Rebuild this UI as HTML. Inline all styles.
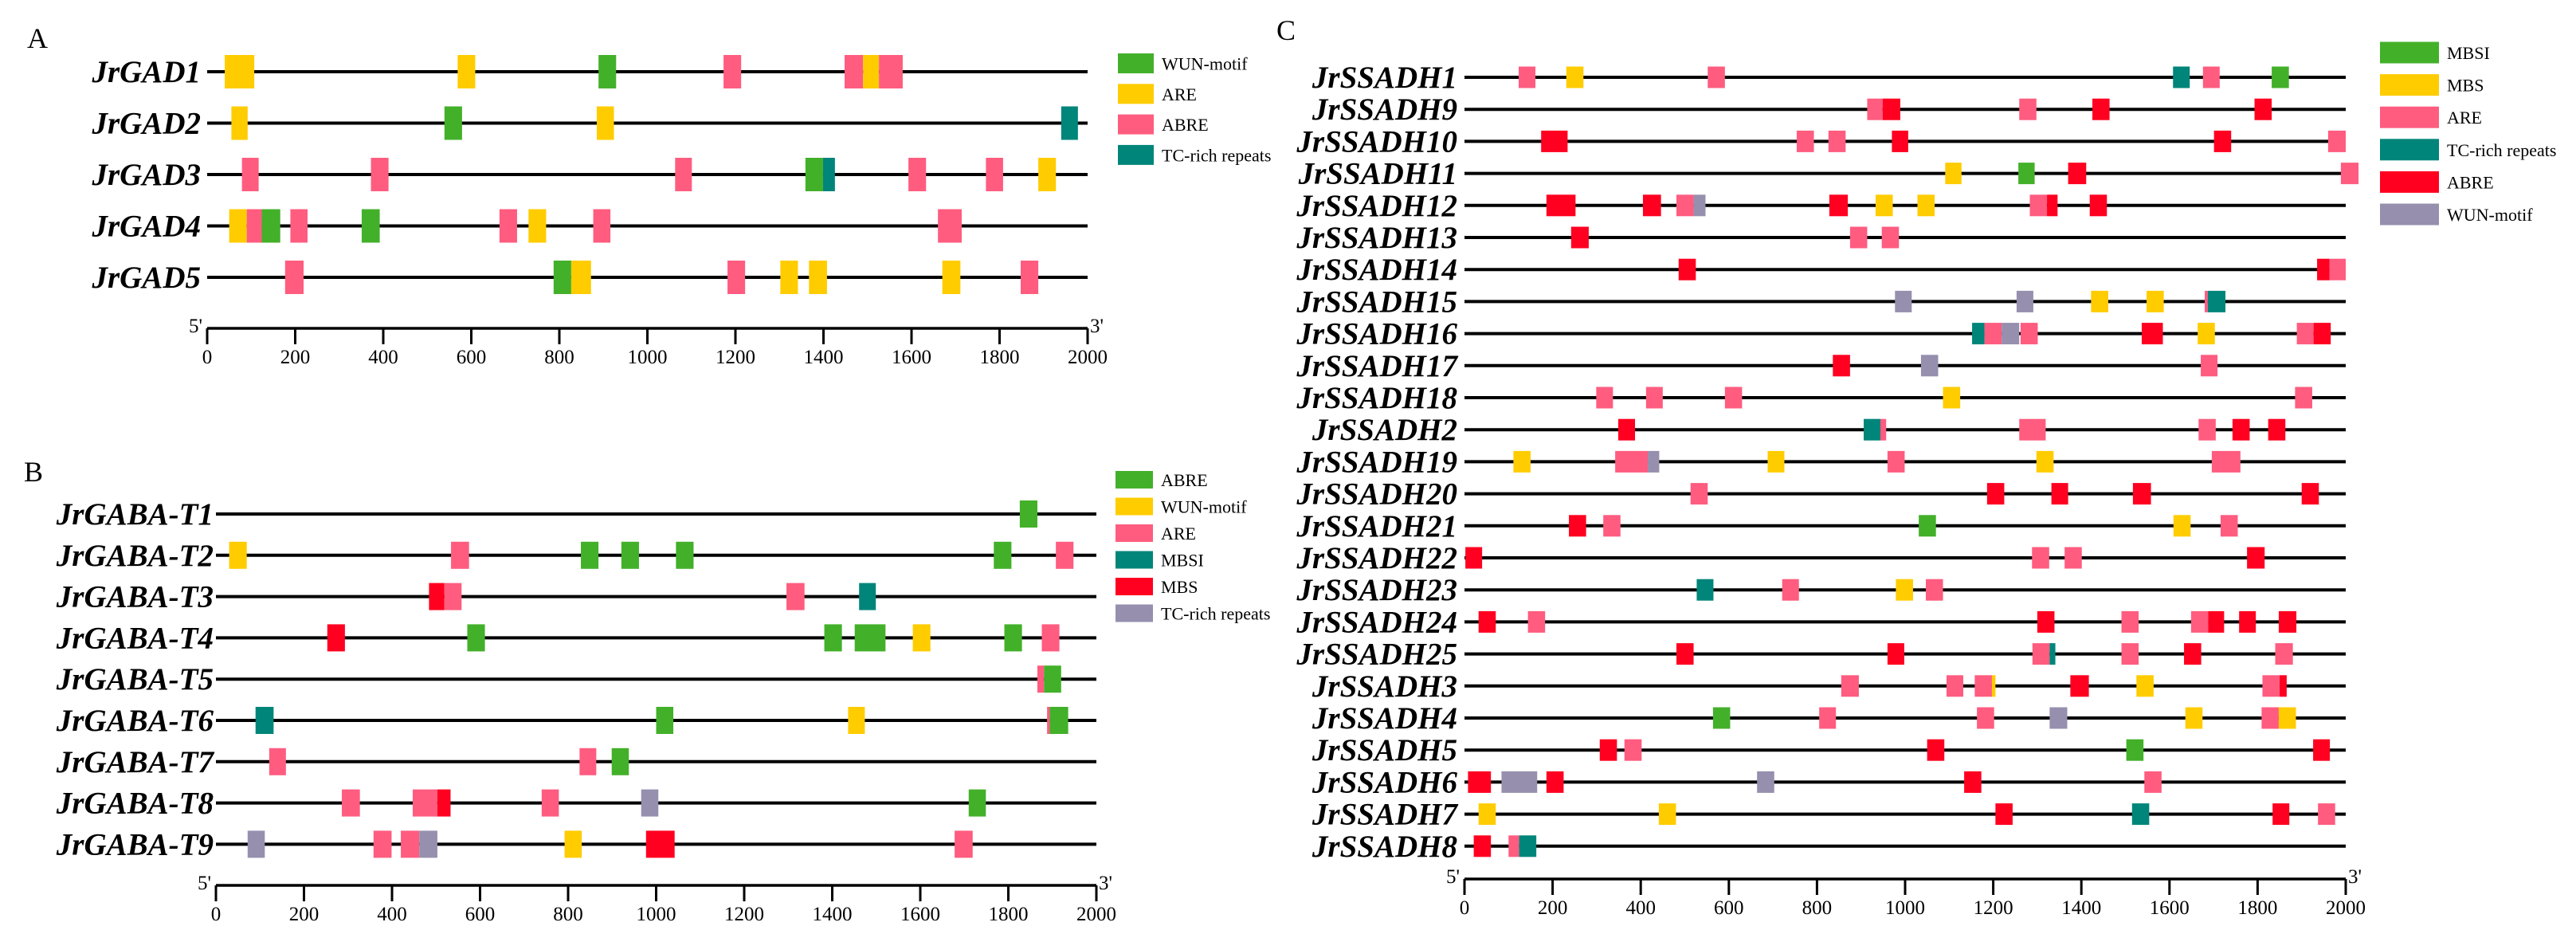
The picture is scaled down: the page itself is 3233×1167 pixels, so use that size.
<!DOCTYPE html>
<html><head><meta charset="utf-8"><style>
html,body{margin:0;padding:0;background:#fff;}
svg{display:block;font-family:"Liberation Serif",serif;}
.lab{font-weight:bold;font-style:italic;font-size:39px;}
.tick{font-size:25px;}
.leg{font-size:22px;}
</style></head><body>
<svg id="fig" width="3233" height="1167" viewBox="0 0 3233 1167" xmlns="http://www.w3.org/2000/svg">
<rect width="3233" height="1167" fill="#fff"/>
</svg>
<script>
const ticks = [0,200,400,600,800,1000,1200,1400,1600,1800,2000];
const genesA = ["JrGAD1","JrGAD2","JrGAD3","JrGAD4","JrGAD5"];
const typesA = ["WUN-motif","ARE","ABRE","TC-rich repeats"];
const colorsA = ["#43b02a","#ffcc00","#ff5c80","#00857a"];
const elemsA = [
 [[40,107,1],[569,609,1],[889,929,0],[1173,1213,2],[1448,1490,2],[1490,1526,1],[1526,1580,2]],
 [[55,92,1],[539,579,0],[885,924,1],[1940,1978,3]],
 [[79,117,2],[372,412,2],[1063,1101,2],[1359,1399,0],[1399,1426,3],[1593,1633,2],[1769,1808,2],[1888,1928,1]],
 [[50,90,1],[90,124,2],[124,166,0],[189,228,2],[351,392,0],[664,704,2],[730,770,1],[877,916,2],[1660,1714,2]],
 [[177,219,2],[787,827,0],[827,872,1],[1182,1222,2],[1302,1342,1],[1367,1408,1],[1670,1711,1],[1848,1888,2]]
];
const genesB = ["JrGABA-T1","JrGABA-T2","JrGABA-T3","JrGABA-T4","JrGABA-T5","JrGABA-T6","JrGABA-T7","JrGABA-T8","JrGABA-T9"];
const typesB = ["ABRE","WUN-motif","ARE","MBSI","MBS","TC-rich repeats"];
const colorsB = ["#43b02a","#ffcc00","#ff5c80","#00857a","#ff0020","#968fae"];
const elemsB = [
 [[1826,1866,0]],
 [[30,70,1],[534,575,2],[829,869,0],[921,961,0],[1045,1085,0],[1767,1807,0],[1908,1948,2]],
 [[484,519,4],[519,558,2],[1296,1337,2],[1461,1499,3]],
 [[253,293,4],[571,611,0],[1382,1422,0],[1451,1521,0],[1583,1623,1],[1791,1831,0],[1876,1916,2]],
 [[1866,1881,2],[1881,1920,0]],
 [[90,131,3],[1000,1039,0],[1436,1474,1],[1888,1894,2],[1894,1936,0]],
 [[121,159,2],[826,864,2],[899,938,0]],
 [[286,327,2],[447,503,2],[503,533,4],[740,779,2],[966,1005,5],[1710,1749,0]],
 [[72,111,5],[358,399,2],[420,462,2],[462,503,5],[792,831,1],[977,1042,4],[1678,1719,2]]
];
const genesC = ["JrSSADH1","JrSSADH9","JrSSADH10","JrSSADH11","JrSSADH12","JrSSADH13","JrSSADH14","JrSSADH15","JrSSADH16","JrSSADH17","JrSSADH18","JrSSADH2","JrSSADH19","JrSSADH20","JrSSADH21","JrSSADH22","JrSSADH23","JrSSADH24","JrSSADH25","JrSSADH3","JrSSADH4","JrSSADH5","JrSSADH6","JrSSADH7","JrSSADH8"];
const typesC = ["MBSI","MBS","ARE","TC-rich repeats","ABRE","WUN-motif"];
const colorsC = ["#43b02a","#ffcc00","#ff5c80","#00857a","#ff0020","#968fae"];
const elemsC = [
 [[123,161,2],[231,270,1],[552,591,2],[1608,1646,3],[1676,1714,2],[1832,1871,0]],
 [[914,949,2],[949,989,4],[1259,1298,2],[1425,1464,4],[1793,1832,4]],
 [[174,234,4],[754,793,2],[826,865,2],[970,1007,4],[1701,1740,4],[1960,2000,2]],
 [[1091,1128,1],[1257,1294,0],[1370,1411,4],[1989,2029,2]],
 [[186,252,4],[405,446,4],[481,520,2],[520,547,5],[828,870,4],[933,972,1],[1028,1067,1],[1283,1322,2],[1322,1346,4],[1419,1458,4]],
 [[242,282,4],[875,914,2],[947,986,2]],
 [[486,525,4],[1935,1963,4],[1963,2000,2]],
 [[977,1015,5],[1253,1291,5],[1422,1461,1],[1548,1587,1],[1680,1687,2],[1687,1727,3]],
 [[1152,1180,3],[1180,1219,2],[1219,1259,5],[1262,1301,2],[1537,1585,4],[1664,1703,1],[1889,1927,2],[1927,1966,4]],
 [[836,875,4],[1036,1075,5],[1671,1709,2]],
 [[299,337,2],[412,450,2],[591,630,2],[1086,1125,1],[1885,1924,2]],
 [[349,387,4],[906,944,3],[944,957,2],[1259,1319,2],[1666,1705,2],[1743,1782,4],[1824,1863,4]],
 [[111,150,1],[342,416,2],[416,442,5],[688,726,1],[960,999,2],[1298,1337,1],[1696,1761,2]],
 [[513,552,2],[1186,1225,4],[1332,1370,4],[1517,1558,4],[1900,1939,4]],
 [[237,276,4],[315,354,2],[1031,1070,0],[1609,1648,1],[1716,1755,2]],
 [[2,40,4],[1288,1327,2],[1362,1401,2],[1776,1816,4]],
 [[527,565,3],[721,759,2],[979,1018,1],[1047,1086,2]],
 [[32,71,4],[144,183,2],[1300,1339,4],[1491,1530,2],[1649,1688,2],[1688,1724,4],[1758,1796,4],[1848,1888,4]],
 [[481,520,4],[960,998,4],[1289,1328,2],[1328,1341,3],[1491,1530,2],[1633,1672,4],[1840,1880,2]],
 [[855,895,2],[1094,1132,2],[1158,1197,2],[1197,1205,1],[1375,1417,4],[1525,1564,1],[1811,1850,2],[1850,1866,4]],
 [[564,603,0],[805,843,2],[1163,1202,2],[1328,1368,5],[1636,1675,1],[1809,1848,2],[1848,1887,1]],
 [[307,346,4],[363,402,2],[1050,1089,4],[1502,1541,0],[1926,1964,4]],
 [[8,60,4],[84,165,5],[186,225,4],[664,703,5],[1134,1173,4],[1543,1582,2]],
 [[32,71,1],[441,480,1],[1205,1244,4],[1515,1554,3],[1834,1872,4],[1937,1976,2]],
 [[21,60,4],[100,124,2],[124,163,3]]
];

const NS = "http://www.w3.org/2000/svg";
const svg = document.getElementById("fig");
function mk(tag, attrs, parent){
  const e = document.createElementNS(NS, tag);
  for (const k in attrs) e.setAttribute(k, attrs[k]);
  (parent||svg).appendChild(e);
  return e;
}
function panel(cfg){
  const g = mk("g", {});
  
  
  const xs = v => cfg.x0 + (v/2000)*(cfg.x1-cfg.x0);
  const ys = i => cfg.y0 + i*cfg.dy;
  const t = mk("text", {x:cfg.lx, y:cfg.ly, "font-size":36}, g);
  t.textContent = cfg.letter;
  
  
  cfg.genes.forEach((gn, i) => {
    const y = ys(i);
    const row = mk("g", {}, g);
    
    
    const lt = mk("text", {x:cfg.labelX, y:y+13, "text-anchor":"end", class:"lab"}, row);
    lt.textContent = gn;
    
    
    const ln = mk("line", {x1:xs(0), x2:xs(2000), y1:y, y2:y, stroke:"#000", "stroke-width":4}, row);
    
    
    cfg.elems[i].forEach(el => {
      const r = mk("rect", {x:xs(el[0]), y:y-cfg.h, width:Math.max(1,xs(el[1])-xs(el[0])), height:cfg.h*2, fill:cfg.colors[el[2]]}, row);
      
      
    });
  });
  const ax = mk("g", {}, g);
  
  
  mk("line", {x1:xs(0), x2:xs(2000), y1:cfg.ay, y2:cfg.ay, stroke:"#000", "stroke-width":3.5}, ax);
  ticks.forEach(v => {
    mk("line", {x1:xs(v), x2:xs(v), y1:cfg.ay, y2:cfg.ay+20, stroke:"#000", "stroke-width":3}, ax);
    const tl = mk("text", {x:xs(v), y:cfg.ay+44, "text-anchor":"middle", class:"tick"}, ax);
    tl.textContent = v;
    
    
  });
  const p5 = mk("text", {x:xs(0)-6, y:cfg.ay+5, "text-anchor":"end", class:"tick"}, ax);
  p5.textContent = "5'";
  const p3 = mk("text", {x:xs(2000)+3, y:cfg.ay+5, class:"tick"}, ax);
  p3.textContent = "3'";
  const lg = mk("g", {}, g);
  
  
  cfg.types.forEach((tp, k) => {
    const y = cfg.legY + k*cfg.legDy;
    const r = mk("rect", {x:cfg.legX, y:y-cfg.legH/2, width:cfg.legW, height:cfg.legH, fill:cfg.colors[k]}, lg);
    
    
    const tx = mk("text", {x:cfg.legX+cfg.legW+10, y:y+8, class:"leg"}, lg);
    tx.textContent = tp;
    
    
  });
}
panel({name:"panel-a", letter:"A", lx:34, ly:60, genes:genesA, elems:elemsA, colors:colorsA, types:typesA,
  x0:260, x1:1365, y0:90, dy:64.5, h:21, labelX:252, ay:412,
  legX:1403, legW:45, legH:25, legY:79.5, legDy:38.3});
panel({name:"panel-b", letter:"B", lx:30, ly:604, genes:genesB, elems:elemsB, colors:colorsB, types:typesB,
  x0:271, x1:1376, y0:645, dy:51.8, h:17, labelX:268, ay:1111,
  legX:1400, legW:47, legH:22, legY:602, legDy:33.5});
panel({name:"panel-c", letter:"C", lx:1602, ly:50, genes:genesC, elems:elemsC, colors:colorsC, types:typesC,
  x0:1838, x1:2944, y0:97, dy:40.2, h:13.5, labelX:1829, ay:1103,
  legX:2987, legW:74, legH:27, legY:66, legDy:40.6});
</script>
</body></html>
